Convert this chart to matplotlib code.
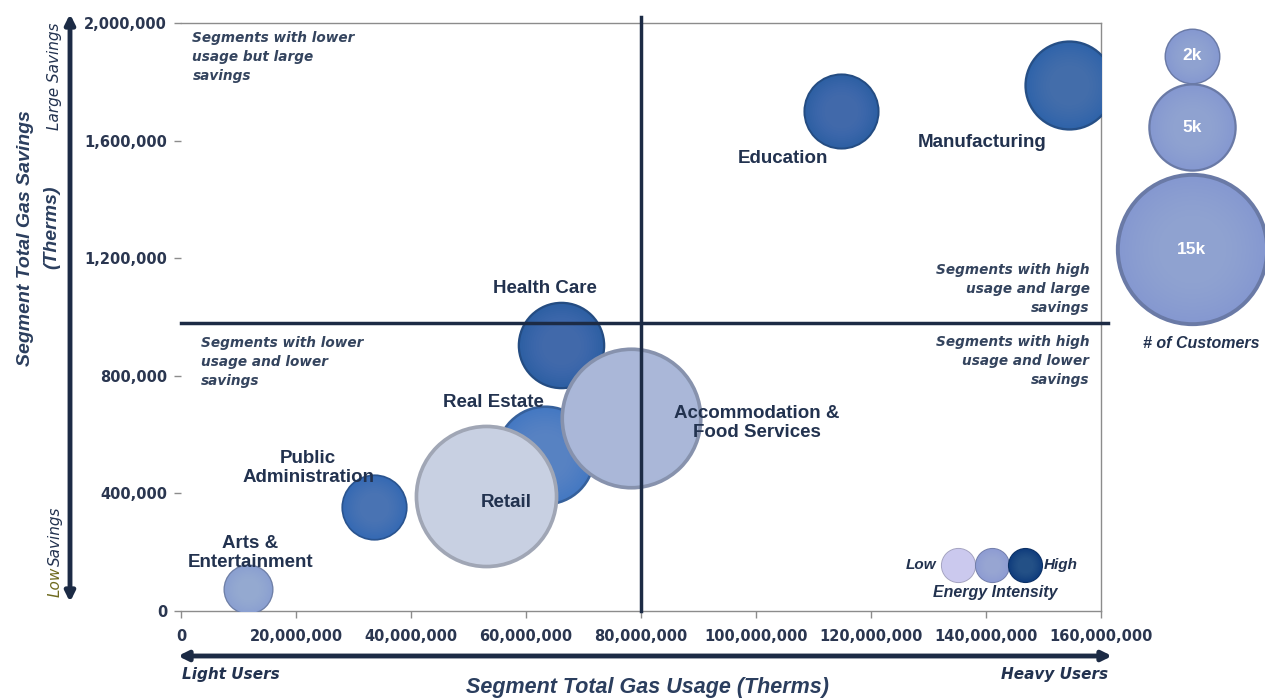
import numpy as np
import matplotlib.pyplot as plt
from matplotlib.colors import to_rgb
from matplotlib.ticker import FuncFormatter, MultipleLocator

# segment data: usage (therms), savings (therms), customer counts
segments = ["Arts &\nEntertainment", "Public\nAdministration", "Health Care", "Real Estate",
            "Accommodation &\nFood Services", "Retail", "Education", "Manufacturing"]
gas_usage = [11.7e6, 33.6e6, 66.0e6, 63.3e6, 78.3e6, 53.0e6, 114.8e6, 154.4e6]
gas_savings = [75000, 355000, 905000, 530000, 655000, 390000, 1700000, 1790000]
customers = [1600, 2800, 4900, 6400, 12900, 13200, 3700, 5200]
bubble_colors = ["#8A9FD0", "#3569B3", "#2D5FA3", "#4478C2",
                 "#A9B7D8", "#C8D0E2", "#2D5FA3", "#2F63A8"]
# label offsets from bubble centre, in pixels
label_offsets = [(2, 36), (-66, 39), (-16, 56), (-52, 53),
                 (126, -5), (21, -6), (-58, -47), (-87, -58)]

legend_counts = [2000, 5000, 15000]
legend_labels = ["2k", "5k", "15k"]
intensity_colors = ["#CBC9EE", "#8D9BD2", "#0F3C7C"]

size_scale = 0.812   # marker area (pt^2) per customer
navy = "#1C2B45"
text_col = "#22324F"


def bubble(ax, x, y, s, color, z, **kw):
    c = np.array(to_rgb(color))
    # darker rim, flat fill, then a soft brightening toward the centre
    ax.scatter(x, y, s=s, color=c * 0.8, linewidths=0, zorder=z, **kw)
    ax.scatter(x, y, s=s * 0.90, color=c, linewidths=0, zorder=z, **kw)
    for f in np.linspace(0.85, 0.2, 10):
        ax.scatter(x, y, s=s * f, color="white", alpha=0.012, linewidths=0, zorder=z, **kw)


fig = plt.figure(figsize=(12.65, 6.98), dpi=100)
ax = fig.add_axes([181 / 1265, 87 / 698, 920 / 1265, 588 / 698])

for i in range(len(segments)):
    bubble(ax, gas_usage[i], gas_savings[i], customers[i] * size_scale, bubble_colors[i], 3 + i)
    ax.annotate(segments[i], (gas_usage[i], gas_savings[i]),
                xytext=label_offsets[i], textcoords="offset pixels",
                ha="center", va="center", fontsize=13.5, fontweight="bold",
                color=text_col, family="Liberation Sans", zorder=20, linespacing=1.15)

# quadrant dividers
ax.axvline(80e6, ymin=0, ymax=1.01, color=navy, lw=2.5, zorder=15, clip_on=False)
ax.axhline(980000, xmin=0, xmax=1.008, color=navy, lw=2.5, zorder=15, clip_on=False)

qkw = dict(fontsize=9.8, fontweight="bold", style="italic", color="#34445E", zorder=16,
           linespacing=1.45, transform=ax.transData)
ax.text(2e6, 1972000, "Segments with lower\nusage but large\nsavings", ha="left", va="top", **qkw)
ax.text(158e6, 1185000, "Segments with high\nusage and large\nsavings", ha="right", va="top",
        multialignment="right", **qkw)
ax.text(3.5e6, 934000, "Segments with lower\nusage and lower\nsavings", ha="left", va="top", **qkw)
ax.text(158e6, 940000, "Segments with high\nusage and lower\nsavings", ha="right", va="top",
        multialignment="right", **qkw)

ax.set_xlim(0, 160e6)
ax.set_ylim(0, 2000000)
ax.xaxis.set_major_locator(MultipleLocator(20e6))
ax.yaxis.set_major_locator(MultipleLocator(400000))
ax.xaxis.set_major_formatter(FuncFormatter(lambda v, p: f"{v:,.0f}"))
ax.yaxis.set_major_formatter(FuncFormatter(lambda v, p: f"{v:,.0f}"))
ax.tick_params(axis="both", colors="#8C8C8C", length=5, width=1, labelcolor="#2A3650",
               labelsize=10.5)
ax.tick_params(axis="y", pad=5)
ax.tick_params(axis="x", pad=8)
for lab in ax.get_xticklabels() + ax.get_yticklabels():
    lab.set_fontweight("bold")
for side in ["top", "right", "bottom"]:
    ax.spines[side].set_color("#8C8C8C")
    ax.spines[side].set_linewidth(1)
ax.spines["left"].set_visible(False)

# overlay in pixel coordinates for axis arrows and legends
ov = fig.add_axes([0, 0, 1, 1], zorder=5)
ov.set_xlim(0, 1265)
ov.set_ylim(698, 0)
ov.axis("off")

akw = dict(arrowstyle="<|-|>", color=navy, lw=3.5, mutation_scale=14, shrinkA=0, shrinkB=0)
ov.annotate("", xy=(1112, 656), xytext=(178, 656), arrowprops=akw)
ov.annotate("", xy=(70, 14), xytext=(70, 602), arrowprops=akw)

ov.text(182, 674, "Light Users", ha="left", va="center", fontsize=11, style="italic",
        fontweight="bold", color=text_col, family="Liberation Sans Narrow")
ov.text(1108, 674, "Heavy Users", ha="right", va="center", fontsize=11, style="italic",
        fontweight="bold", color=text_col, family="Liberation Sans Narrow")
ov.text(647, 687, "Segment Total Gas Usage (Therms)", ha="center", va="center", fontsize=15.5,
        style="italic", fontweight="bold", color="#2B3E5E", family="Liberation Sans")
ykw = dict(ha="center", va="center", rotation=90, fontsize=14, style="italic",
           fontweight="bold", color="#2B3E5E", family="Liberation Sans")
ov.text(26, 238, "Segment Total Gas Savings", **ykw)
ov.text(52, 227, "(Therms)", **ykw)
ov.text(55, 22, "Large Savings", ha="center", va="top", rotation=90, fontsize=11,
        style="italic", color=text_col, family="Liberation Sans Narrow")
ov.text(55, 597, "Low", ha="center", va="bottom", rotation=90, fontsize=11,
        style="italic", color="#6E6A1E", family="Liberation Sans Narrow")
ov.text(55, 566, "Savings", ha="center", va="bottom", rotation=90, fontsize=11,
        style="italic", color=text_col, family="Liberation Sans Narrow")

# customer-count size legend
leg_y = [56, 127, 249]
for n, lab, y in zip(legend_counts, legend_labels, leg_y):
    bubble(ov, 1192, y, n * size_scale, "#8598D0", 3)
    ov.text(1192, y, lab, ha="center", va="center", fontsize=12.5, fontweight="bold",
            color="white", family="Liberation Sans", zorder=10)
ov.text(1201, 343, "# of Customers", ha="center", va="center", fontsize=11.5, style="italic",
        fontweight="bold", color=text_col, family="Liberation Sans")

# energy intensity legend
for x, c in zip([958, 992, 1025], intensity_colors):
    bubble(ov, x, 565, 640, c, 3)
ov.text(936, 565, "Low", ha="right", va="center", fontsize=11, style="italic",
        fontweight="bold", color=text_col, family="Liberation Sans")
ov.text(1044, 565, "High", ha="left", va="center", fontsize=11, style="italic",
        fontweight="bold", color=text_col, family="Liberation Sans")
ov.text(995, 593, "Energy Intensity", ha="center", va="center", fontsize=11.5, style="italic",
        fontweight="bold", color=text_col, family="Liberation Sans")

fig.savefig("out.png", dpi=100)
